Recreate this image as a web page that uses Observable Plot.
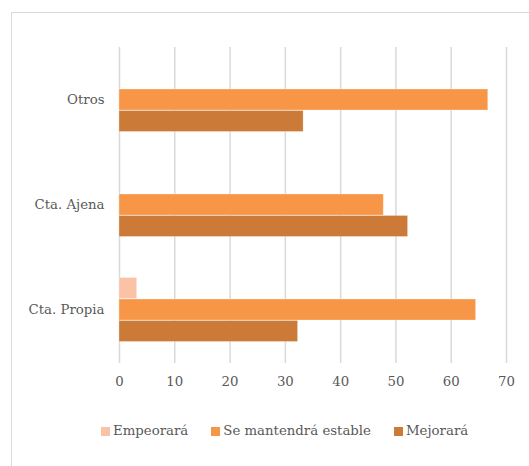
<!DOCTYPE html>
<html>
<head>
<meta charset="utf-8">
<script src="https://cdn.jsdelivr.net/npm/d3@7"></script>
<script src="https://cdn.jsdelivr.net/npm/@observablehq/plot@0.6"></script>
<style>
  html, body { margin: 0; padding: 0; background: #fff; width: 529px; height: 466px; overflow: hidden; }
  #chart { position: relative; width: 529px; height: 466px; font-family: "DejaVu Serif", serif; color: #595959; }
  #frame { position: absolute; left: 11px; top: 12px; width: 560px; height: 500px; border: 1.5px solid #d9d9d9; box-sizing: border-box; }
  #plot { position: absolute; left: 0; top: 0; }
  #legend { position: absolute; left: 101px; top: 423px; display: flex; align-items: center; font-size: 13.3px; line-height: 16px; }
  .item { display: flex; align-items: center; margin-right: 23px; }
  .sw { width: 9px; height: 9px; margin-right: 3px; }
</style>
</head>
<body>
<div id="chart">
  <div id="frame"></div>
  <div id="plot"></div>
  <div id="legend"></div>
</div>
<script>
// Expectations by type of worker (percent of answers)
const categories = ["Otros", "Cta. Ajena", "Cta. Propia"];
const series = ["Empeorará", "Se mantendrá estable", "Mejorará"];
const empeorara = [0, 0, 3.2];
const mantendra = [66.7, 47.8, 64.5];
const mejorara = [33.3, 52.2, 32.3];
const xTicks = [0, 10, 20, 30, 40, 50, 60, 70];
const colors = ["#fac3a8", "#f79646", "#cb7a38"];

const values = [empeorara, mantendra, mejorara];
const rows = series.map((s, i) =>
  categories.map((c, j) => ({category: c, series: s, value: values[i][j]}))
);

const W = 529, H = 400;
const mTop = 47, mBottom = 37, mLeft = 119, mRight = 23;
const pInner = 0.796;
// each category band holds the middle bar; the other two sit one band above/below
const bw = ((H - mTop - mBottom) / categories.length) * (1 - pInner);

const chart = Plot.plot({
  width: W,
  height: H,
  marginTop: mTop,
  marginBottom: mBottom,
  marginLeft: mLeft,
  marginRight: mRight,
  style: {fontFamily: "'DejaVu Serif', serif", fontSize: "13.3px", color: "#595959", background: "transparent"},
  x: {domain: [0, 70], label: null},
  y: {domain: categories, paddingInner: pInner, paddingOuter: pInner / 2, label: null},
  color: {domain: series, range: colors},
  marks: [
    Plot.gridX(xTicks, {stroke: "#d9d9d9", strokeOpacity: 1, strokeWidth: 1.5}),
    ...rows.map((r, i) =>
      Plot.barX(r, {
        x: "value",
        y: "category",
        fill: "series",
        dy: (i - 1) * bw,
        stroke: "#fff",
        strokeOpacity: 0.35,
        strokeWidth: 0.8
      })
    ),
    Plot.axisX({ticks: xTicks, tickSize: 0, tickPadding: 13, label: null}),
    Plot.axisY({tickSize: 0, tickPadding: 15, label: null})
  ]
});
document.getElementById("plot").appendChild(chart);

const legend = d3.select("#legend");
series.forEach((s, i) => {
  const it = legend.append("div").attr("class", "item");
  it.append("div").attr("class", "sw").style("background", colors[i]);
  it.append("span").text(s);
});
</script>
</body>
</html>
